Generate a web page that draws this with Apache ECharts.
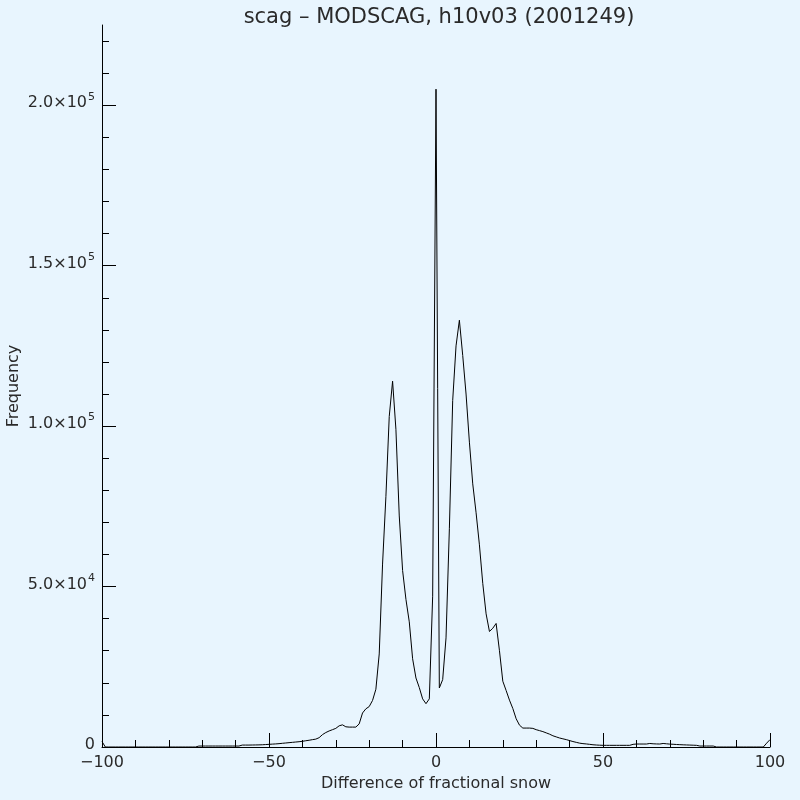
<!DOCTYPE html>
<html><head><meta charset="utf-8">
<script src="https://cdn.jsdelivr.net/npm/echarts@6/dist/echarts.min.js"></script>
<style>html,body{margin:0;padding:0;background:#e8f5fe}#c{width:800px;height:800px}</style>
</head><body><div id="c"></div>
<script>
const titleText = 'scag \u2013 MODSCAG, h10v03 (2001249)';
const xName = 'Difference of fractional snow';
const yName = 'Frequency';
const xMin = -100, xMax = 100, xMajor = 50, xMinorSplit = 5;
const yMax = 225000, yMajorMax = 200000, yMajor = 50000, yMinorMax = 220000, yMinor = 10000;
// histogram frequency for difference bins -100 .. 100 (step 1)
const freq = [
  1700,0,0,0,0,0,0,0,0,0,                                  // -100..-91
  0,0,0,0,0,0,0,0,0,0,                                     // -90..-81
  0,0,0,0,0,0,0,0,0,300,                                   // -80..-71
  300,300,300,300,300,300,300,300,300,300,                 // -70..-61
  300,300,600,600,600,620,640,660,700,760,                 // -60..-51
  830,900,960,1040,1150,1250,1350,1450,1550,1650,          // -50..-41
  1770,1950,2100,2290,2450,2900,3850,4500,5000,5400,       // -40..-31
  5800,6600,6900,6300,6200,6200,6200,7200,10600,11900,     // -30..-21
  12600,14500,18000,29000,57000,78000,103000,114000,99000,72000, // -20..-11
  55000,46000,39000,27500,21500,18500,15000,13500,15000,47000,   // -10..-1
  205000,18400,21000,34000,68000,108000,125000,133000,122000,110000, // 0..9
  95000,82000,73000,63000,51000,41500,36000,37000,38500,30000,   // 10..19
  20500,17600,14600,12000,8800,6800,5900,5900,5900,5800,   // 20..29
  5400,5100,4800,4400,4000,3500,3150,2800,2550,2300,       // 30..39
  2000,1700,1450,1200,1050,950,830,700,620,560,            // 40..49
  520,520,520,520,520,520,520,520,520,830,                 // 50..59
  930,930,930,930,1100,1000,950,930,1100,1000,             // 60..69
  900,850,780,730,680,640,600,560,520,300,                 // 70..79
  300,300,300,300,0,0,0,0,0,0,                             // 80..89
  0,0,0,0,0,0,0,0,0,1200,                                  // 90..99
  2300                                                     // 100
];

const FONT = 'DejaVu Sans';
const TXT = '#2a2a2a';
const L = 102, Rx = 770, T = 25, B = 747;
const W = Rx - L, H = B - T;
const topFor = v => B - H * v / yMax;

function fmtY(v) {
  if (v === 0) return '{z|0}';
  const e = Math.floor(Math.log10(v) + 1e-9);
  const m = (v / Math.pow(10, e)).toFixed(1);
  return '{b|' + m + '\u00d710}{s|' + e + '}';
}
function fmtX(v) { return v < 0 ? '\u2212' + Math.abs(v) : String(v); }

const chart = echarts.init(document.getElementById('c'), null, {renderer: 'canvas'});
const hiddenX = (gi) => ({gridIndex: gi, type: 'value', min: xMin, max: xMax, show: false});
const gridBase = {left: L, width: W, containLabel: false, outerBoundsMode: 'none'};
chart.setOption({
  backgroundColor: '#e8f5fe',
  animation: false,
  title: {
    text: titleText, left: L + W / 2 - 2, top: 2, textAlign: 'center',
    textStyle: {fontFamily: FONT, fontSize: 21, fontWeight: 'normal', color: TXT}
  },
  grid: [
    Object.assign({top: T, height: H}, gridBase),
    Object.assign({top: topFor(yMinorMax), height: B - topFor(yMinorMax)}, gridBase),
    Object.assign({top: topFor(yMajorMax), height: B - topFor(yMajorMax)}, gridBase)
  ],
  xAxis: [
    {
      gridIndex: 0, type: 'value', min: xMin, max: xMax, interval: xMajor,
      name: xName, nameLocation: 'middle', nameGap: 21,
      nameTextStyle: {fontFamily: FONT, fontSize: 16, color: TXT},
      axisLine: {show: true, onZero: false, lineStyle: {color: '#000', width: 1}},
      axisTick: {show: true, inside: true, length: 14, lineStyle: {color: '#000'}},
      minorTick: {show: true, splitNumber: xMinorSplit, length: 7, lineStyle: {color: '#000'}},
      axisLabel: {formatter: fmtX, fontFamily: FONT, fontSize: 16, color: TXT, margin: 8, showMinLabel: true, showMaxLabel: true},
      splitLine: {show: false}
    },
    hiddenX(1), hiddenX(2)
  ],
  yAxis: [
    {
      gridIndex: 0, type: 'value', min: 0, max: yMax,
      name: yName, nameLocation: 'middle', nameGap: 80,
      nameTextStyle: {fontFamily: FONT, fontSize: 16, color: TXT},
      axisLine: {show: true, onZero: false, lineStyle: {color: '#000', width: 1}},
      axisTick: {show: false}, axisLabel: {show: false}, splitLine: {show: false}
    },
    {
      gridIndex: 1, type: 'value', min: 0, max: yMinorMax, interval: yMinor,
      axisLine: {show: false, onZero: false},
      axisTick: {show: true, inside: true, length: 7, lineStyle: {color: '#000'}},
      axisLabel: {show: false}, splitLine: {show: false}
    },
    {
      gridIndex: 2, type: 'value', min: 0, max: yMajorMax, interval: yMajor,
      axisLine: {show: false, onZero: false},
      axisTick: {show: true, inside: true, length: 14, lineStyle: {color: '#000'}},
      axisLabel: {
        formatter: fmtY, margin: 7,
        rich: {
          z: {fontFamily: FONT, fontSize: 16, color: TXT, lineHeight: 16},
          b: {fontFamily: FONT, fontSize: 16, color: TXT, lineHeight: 16, verticalAlign: 'bottom', padding: [0, 0, 0, 0]},
          s: {fontFamily: FONT, fontSize: 11, color: TXT, lineHeight: 11, verticalAlign: 'bottom', padding: [0, 0, 9, 1]}
        },
        padding: [0, 0, 4, 0]
      },
      splitLine: {show: false}
    }
  ],
  series: [{
    type: 'line', xAxisIndex: 0, yAxisIndex: 0,
    data: freq.map((f, i) => [xMin + i, f]),
    showSymbol: false, symbol: 'none',
    lineStyle: {color: '#000', width: 1},
    silent: true
  }]
});
</script></body></html>
